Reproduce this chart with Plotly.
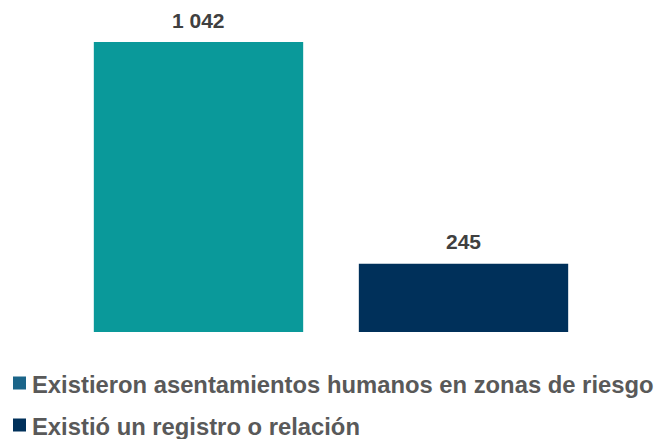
import plotly.graph_objects as go

# Data
categories = ["Existieron asentamientos humanos en zonas de riesgo",
              "Existió un registro o relación"]
values = [1042, 245]
value_labels = ["1 042", "245"]
bar_colors = ["#0A999A", "#00305A"]
legend_colors = ["#1B6589", "#00305A"]

FONT = "Liberation Sans, Arial, sans-serif"
W, H = 655, 439
M = dict(l=66, r=59, t=12, b=107)
PW = W - M["l"] - M["r"]
PH = H - M["t"] - M["b"]


def px_x(px):
    """Pixel column -> paper x."""
    return (px - M["l"]) / PW


def px_y(py):
    """Pixel row -> paper y."""
    return (H - M["b"] - py) / PH


fig = go.Figure()

# Bars
fig.add_trace(go.Bar(
    x=categories,
    y=values,
    width=0.79,
    marker=dict(color=bar_colors, line=dict(width=0)),
    showlegend=False,
    hoverinfo="x+y",
))

# Value labels above each bar
for cat, val, lab in zip(categories, values, value_labels):
    fig.add_annotation(
        x=cat, y=val, text=f"<b>{lab}</b>", showarrow=False,
        yanchor="middle", yshift=22,
        font=dict(family=FONT, size=21, color="#404040"),
    )

# Legend below the bars: coloured square + bold label per series
row_centers = [383, 425]
for name, col, cy in zip(categories, legend_colors, row_centers):
    fig.add_shape(
        type="rect", xref="paper", yref="paper",
        x0=px_x(13), x1=px_x(26), y0=px_y(cy + 6.5), y1=px_y(cy - 6.5),
        fillcolor=col, line=dict(width=0),
    )
    fig.add_annotation(
        xref="paper", yref="paper", x=px_x(30), y=px_y(cy + 1.5),
        xanchor="left", yanchor="middle", showarrow=False,
        text=f"<b>{name}</b>",
        font=dict(family=FONT, size=23.8, color="#595959"),
    )

fig.update_layout(
    width=W, height=H,
    margin=M,
    paper_bgcolor="white",
    plot_bgcolor="white",
    showlegend=False,
    xaxis=dict(visible=False, range=[-0.5, 1.5]),
    yaxis=dict(visible=False, range=[0, 1150]),
    font=dict(family=FONT),
)

fig.write_html("out.html")
